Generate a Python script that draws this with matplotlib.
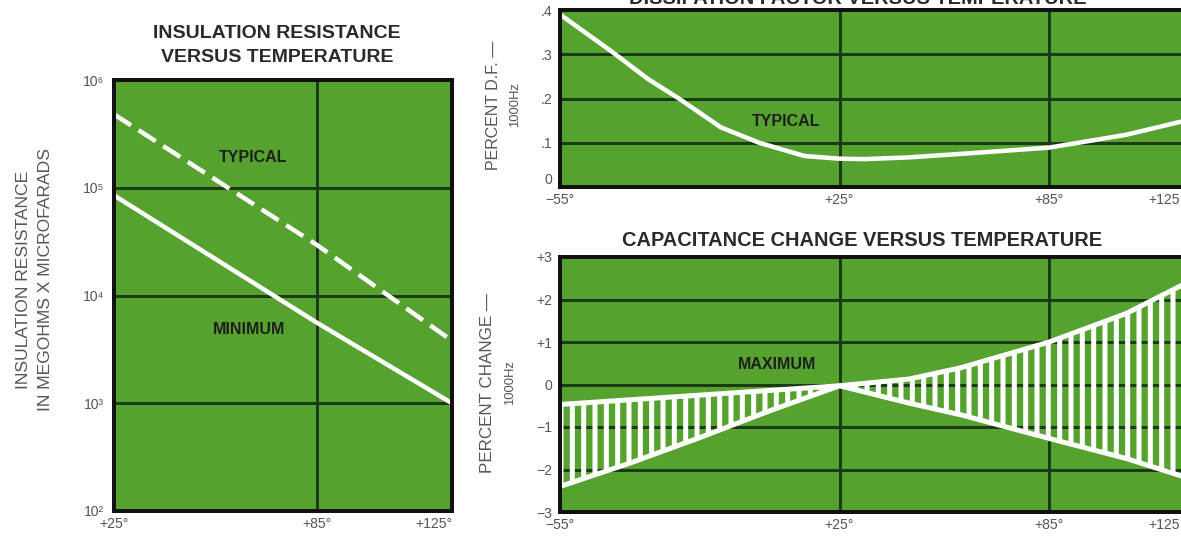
import numpy as np
import matplotlib
matplotlib.use('Agg')
import matplotlib.pyplot as plt
from matplotlib.ticker import NullLocator

DPI = 136
W, H = 1181, 538


def pt(px):
    return px * 72.0 / DPI


def box(x0, y0, x1, y1):
    # pixel box (left, top, right, bottom) -> figure fraction rect
    return [x0 / W, 1 - y1 / H, (x1 - x0) / W, (y1 - y0) / H]


plt.rcParams['font.family'] = ['Liberation Sans', 'DejaVu Sans']
plt.rcParams['hatch.linewidth'] = pt(5)

GREEN = '#55a22f'
GRID = '#1b3a16'
TXT = '#555555'
DARK = '#1e1e1e'
TICK_PX = 14

# insulation resistance (megohm x microfarad) vs temperature
ir_temp = [25, 85, 125]
ir_typical = [4.8e5, 2.95e4, 3.8e3]
ir_minimum = [8.5e4, 5.6e3, 1.0e3]
ir_yticks = [1e2, 1e3, 1e4, 1e5, 1e6]
ir_ylabels = ['10²', '10³', '10⁴', '10⁵', '10⁶']
ir_xticks = [25, 85, 125]
ir_xlabels = ['+25°', '+85°', '+125°']

# dissipation factor (percent) vs temperature
df_temp = [-55, -40, -30, -21, -9, 2, 15, 25, 32, 45, 60, 85, 107, 125]
df_typical = [0.39, 0.305, 0.245, 0.2, 0.135, 0.1, 0.07, 0.064, 0.063, 0.067,
              0.075, 0.089, 0.118, 0.152]
df_yticks = [0, 0.1, 0.2, 0.3, 0.4]
df_ylabels = ['0', '.1', '.2', '.3', '.4']

# capacitance change (percent) vs temperature, max band
cap_temp = [-55, -35, -15, 5, 25, 45, 60, 85, 107, 125]
cap_upper = [-0.47, -0.36, -0.25, -0.14, -0.03, 0.13, 0.40, 1.00, 1.67, 2.42]
cap_lower = [-2.40, -1.85, -1.25, -0.62, -0.03, -0.44, -0.72, -1.27, -1.74, -2.21]
cap_yticks = [-3, -2, -1, 0, 1, 2, 3]
cap_ylabels = ['−3', '−2', '−1', '0', '+1', '+2', '+3']

r_xticks = [-55, 25, 85, 125]
r_xlabels = ['−55°', '+25°', '+85°', '']


def style(ax, xt, xl, yt, yl, ypad):
    ax.set_facecolor(GREEN)
    for s in ax.spines.values():
        s.set_linewidth(pt(4))
        s.set_color('#111111')
    ax.set_xticks(xt)
    ax.set_xticklabels(xl)
    ax.set_yticks(yt)
    ax.set_yticklabels(yl)
    ax.tick_params(length=0, labelsize=pt(TICK_PX), labelcolor=TXT)
    ax.tick_params(axis='y', pad=pt(ypad))
    ax.tick_params(axis='x', pad=pt(6))
    ax.grid(True, color=GRID, lw=pt(3))
    ax.set_axisbelow(True)
    ax.get_xticklabels()[-1].set_ha('right')


fig = plt.figure(figsize=(W / DPI, H / DPI), dpi=DPI)
fig.patch.set_facecolor('white')

# left panel
ax1 = fig.add_axes(box(114, 80, 452, 511))
ax1.set_yscale('log')
ax1.set_xlim(25, 125)
ax1.set_ylim(1e2, 1e6)
style(ax1, ir_xticks, ir_xlabels, ir_yticks, ir_ylabels, 10)
ax1.yaxis.set_minor_locator(NullLocator())
ax1.plot(ir_temp, ir_typical, color='white', lw=pt(4.5), dashes=(4.5, 2), solid_capstyle='butt')
ax1.plot(ir_temp, ir_minimum, color='white', lw=pt(4.5), solid_capstyle='round')
ax1.text(0.41, 0.82, 'TYPICAL', transform=ax1.transAxes, ha='center', va='center',
         fontsize=pt(16), fontweight='bold', color=DARK)
ax1.text(0.40, 0.42, 'MINIMUM', transform=ax1.transAxes, ha='center', va='center',
         fontsize=pt(16), fontweight='bold', color=DARK)

fig.text(277 / W, 1 - 33 / H, 'INSULATION RESISTANCE', ha='center', va='center',
         fontsize=pt(19.5), fontweight='bold', color='#2a2a2a')
fig.text(277 / W, 1 - 57 / H, 'VERSUS TEMPERATURE', ha='center', va='center',
         fontsize=pt(19.5), fontweight='bold', color='#2a2a2a')
fig.text(24 / W, 1 - 280 / H, 'INSULATION RESISTANCE', rotation=90, ha='center', va='center',
         fontsize=pt(17.5), color=TXT)
fig.text(45 / W, 1 - 280 / H, 'IN MEGOHMS X MICROFARADS', rotation=90, ha='center', va='center',
         fontsize=pt(17.5), color=TXT)

# top right panel
ax2 = fig.add_axes(box(560, 10, 1189, 187))
ax2.set_xlim(-55, 125)
ax2.set_ylim(0, 0.4)
style(ax2, r_xticks, r_xlabels, df_yticks, df_ylabels, 8)
ax2.get_yticklabels()[0].set_va('bottom')
ax2.plot(df_temp, df_typical, color='white', lw=pt(4.5))
ax2.text(0.36, 0.37, 'TYPICAL', ha='center', va='center',
         fontsize=pt(16), fontweight='bold', color=DARK, transform=ax2.transAxes)

fig.text(858 / W, 1 - 4 / H, 'DISSIPATION FACTOR VERSUS TEMPERATURE', ha='center', va='baseline',
         fontsize=pt(20), fontweight='bold', color='#2a2a2a')
fig.text(493 / W, 1 - 105 / H, 'PERCENT D.F. —', rotation=90, ha='center', va='center',
         fontsize=pt(16), color=TXT)
fig.text(515 / W, 1 - 105 / H, '1000Hz', rotation=90, ha='center', va='center',
         fontsize=pt(13), color=TXT)
fig.text(1180 / W, 1 - 200 / H, '+125', ha='right', va='center',
         fontsize=pt(TICK_PX), color=TXT)

# bottom right panel
ax3 = fig.add_axes(box(560, 257, 1189, 512))
ax3.set_xlim(-55, 125)
ax3.set_ylim(-3, 3)
style(ax3, r_xticks, r_xlabels, cap_yticks, cap_ylabels, 8)
ax3.fill_between(cap_temp, cap_lower, cap_upper, facecolor='none', edgecolor='white',
                 hatch='||', linewidth=0)
ax3.plot(cap_temp, cap_upper, color='white', lw=pt(5))
ax3.plot(cap_temp, cap_lower, color='white', lw=pt(5))
ax3.text(0.345, 0.58, 'MAXIMUM', transform=ax3.transAxes, ha='center', va='center',
         fontsize=pt(16), fontweight='bold', color=DARK)

fig.text(862 / W, 1 - 240 / H, 'CAPACITANCE CHANGE VERSUS TEMPERATURE', ha='center', va='center',
         fontsize=pt(20), fontweight='bold', color='#2a2a2a')
fig.text(487 / W, 1 - 383 / H, 'PERCENT CHANGE —', rotation=90, ha='center', va='center',
         fontsize=pt(17), color=TXT)
fig.text(510 / W, 1 - 383 / H, '1000Hz', rotation=90, ha='center', va='center',
         fontsize=pt(13), color=TXT)
fig.text(1180 / W, 1 - 525 / H, '+125', ha='right', va='center',
         fontsize=pt(TICK_PX), color=TXT)

fig.savefig('out.png', dpi=DPI, facecolor='white')
